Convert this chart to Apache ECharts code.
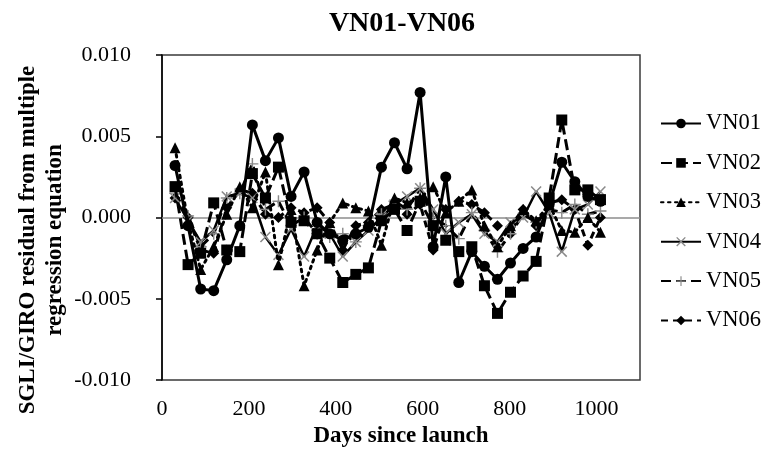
<!DOCTYPE html>
<html>
<head>
<meta charset="utf-8">
<script src="https://cdn.jsdelivr.net/npm/echarts@6/dist/echarts.min.js"></script>
<style>
  html, body { margin: 0; padding: 0; background: #fff; }
  #chart { width: 765px; height: 455px; }
</style>
</head>
<body>
<div id="chart"></div>
<script>
// Days since launch for each monthly residual
const days = [30, 60, 89, 119, 149, 179, 208, 238, 268, 297, 327, 357, 386, 416, 446, 475, 505,
  535, 564, 594, 624, 653, 683, 713, 742, 772, 802, 831, 861, 891, 920, 950, 980, 1009];

// SGLI/GIRO residuals from the multiple regression equation
const vn01 = [0.0032, -0.0005, -0.0044, -0.0045, -0.0026, -0.0005, 0.0057, 0.0035, 0.0049, 0.0013,
  0.0028, -0.0003, -0.0010, -0.0014, -0.0010, -0.0006, 0.0031, 0.0046, 0.0030, 0.0077,
  -0.0018, 0.0025, -0.0040, -0.0021, -0.0030, -0.0038, -0.0028, -0.0019, -0.0012, 0.0008,
  0.0034, 0.0022, 0.0013, 0.0010];
const vn02 = [0.0019, -0.0029, -0.0022, 0.0009, -0.0020, -0.0021, 0.0027, 0.0012, 0.0031, -0.0003,
  -0.0002, -0.0010, -0.0025, -0.0040, -0.0035, -0.0031, -0.0002, 0.0005, -0.0008, 0.0010,
  -0.0005, -0.0014, -0.0021, -0.0018, -0.0042, -0.0059, -0.0046, -0.0036, -0.0027, 0.0012,
  0.0060, 0.0017, 0.0017, 0.0011];
const vn03 = [0.0043, -0.0003, -0.0032, -0.0018, 0.0002, 0.0019, 0.0006, 0.0028, -0.0029, 0.0005,
  -0.0042, -0.0020, -0.0003, 0.0009, 0.0006, 0.0004, -0.0017, 0.0012, 0.0009, 0.0012,
  0.0019, 0.0003, 0.0010, 0.0017, -0.0005, -0.0018, -0.0005, 0.0005, -0.0002, 0.0008,
  -0.0008, -0.0009, 0.0000, -0.0009];
const vn04 = [0.0012, -0.0002, -0.0015, -0.0008, 0.0013, 0.0015, 0.0012, -0.0012, -0.0023, -0.0007,
  -0.0024, -0.0005, -0.0010, -0.0024, -0.0015, -0.0008, 0.0000, 0.0008, 0.0013, 0.0018,
  0.0005, -0.0010, -0.0003, 0.0002, -0.0010, -0.0015, -0.0003, 0.0000, 0.0016, 0.0003,
  -0.0021, 0.0005, 0.0008, 0.0016];
const vn05 = [0.0015, 0.0001, -0.0018, -0.0010, 0.0012, 0.0015, 0.0033, 0.0005, 0.0010, -0.0005,
  0.0000, -0.0010, -0.0012, -0.0010, -0.0015, -0.0005, 0.0002, 0.0010, 0.0005, 0.0018,
  0.0000, -0.0005, -0.0013, 0.0003, -0.0008, -0.0021, -0.0010, 0.0002, -0.0003, 0.0005,
  0.0003, 0.0008, 0.0002, 0.0004];
const vn06 = [0.0012, 0.0000, -0.0020, -0.0022, 0.0006, 0.0017, 0.0015, 0.0002, 0.0000, 0.0006,
  0.0003, 0.0006, -0.0003, -0.0020, -0.0005, -0.0003, 0.0005, 0.0008, 0.0002, 0.0008,
  -0.0020, 0.0005, 0.0010, 0.0008, 0.0003, -0.0005, -0.0010, 0.0005, -0.0005, 0.0009,
  0.0011, 0.0005, -0.0017, 0.0000];

const seriesNames = ['VN01', 'VN02', 'VN03', 'VN04', 'VN05', 'VN06'];
const seriesValues = [vn01, vn02, vn03, vn04, vn05, vn06];

// Marker shapes drawn as filled outlines
const crossPath = 'path://M0,1L1,0L5,4L9,0L10,1L6,5L10,9L9,10L5,6L1,10L0,9L4,5Z';
const plusPath = 'path://M4.4,0H5.6V4.4H10V5.6H5.6V10H4.4V5.6H0V4.4H4.4Z';

const serif = '"Liberation Serif", "Times New Roman", serif';

const styles = [
  { symbol: 'circle', symbolSize: 11, color: '#000', line: { width: 3, type: 'solid' } },
  { symbol: 'rect', symbolSize: 11, color: '#000', line: { width: 3, type: [11, 5] } },
  { symbol: 'triangle', symbolSize: 11, color: '#000', line: { width: 3, type: [2.5, 4.5], cap: 'round' } },
  { symbol: crossPath, symbolSize: 11, color: '#8a8a8a', line: { width: 2.5, type: 'solid' } },
  { symbol: plusPath, symbolSize: 12, color: '#8a8a8a', line: { width: 3, type: [10, 5] } },
  { symbol: 'diamond', symbolSize: 11, color: '#000', line: { width: 3, type: [7, 5] } }
];

const series = seriesNames.map((name, i) => ({
  name: name,
  type: 'line',
  data: days.map((d, j) => [d, seriesValues[i][j]]),
  symbol: styles[i].symbol,
  symbolSize: styles[i].symbolSize,
  showAllSymbol: true,
  animation: false,
  itemStyle: { color: styles[i].color, borderWidth: 0 },
  lineStyle: { color: '#000', width: styles[i].line.width, type: styles[i].line.type, cap: styles[i].line.cap || 'butt' },
  z: 10 - i
}));

// zero reference line
series.push({
  type: 'line',
  data: [],
  silent: true,
  markLine: {
    silent: true,
    symbol: 'none',
    label: { show: false },
    lineStyle: { color: '#8c8c8c', width: 1.5, type: 'solid' },
    data: [{ yAxis: 0 }]
  },
  z: 1
});

const chart = echarts.init(document.getElementById('chart'), null, { renderer: 'canvas' });
chart.setOption({
  animation: false,
  backgroundColor: '#fff',
  title: {
    text: 'VN01-VN06',
    left: 397,
    textAlign: 'center',
    top: 5,
    textStyle: { fontFamily: serif, fontSize: 28, fontWeight: 'bold', color: '#000' }
  },
  grid: {
    left: 162, right: 125, top: 55, bottom: 75,
    show: true, borderColor: '#3a3a3a', borderWidth: 1.5, backgroundColor: '#fff'
  },
  legend: {
    orient: 'vertical',
    left: 655,
    top: 107,
    padding: 5,
    itemWidth: 40,
    itemHeight: 12,
    itemGap: 16.4,
    data: seriesNames,
    textStyle: { fontFamily: serif, fontSize: 22.5, color: '#000', lineHeight: 23 }
  },
  xAxis: {
    type: 'value',
    min: 0,
    max: 1100,
    interval: 200,
    name: 'Days since launch',
    nameLocation: 'middle',
    nameGap: 45,
    nameTextStyle: { fontFamily: serif, fontSize: 23, fontWeight: 'bold', color: '#000' },
    axisLine: { show: false },
    axisTick: { show: false },
    splitLine: { show: false },
    axisLabel: {
      showMaxLabel: false,
      margin: 18,
      fontFamily: serif, fontSize: 22, color: '#000',
      formatter: v => String(v)
    }
  },
  yAxis: {
    type: 'value',
    min: -0.01,
    max: 0.01,
    interval: 0.005,
    axisLine: { show: true, lineStyle: { color: '#000', width: 1.5 } },
    axisTick: { show: true, inside: false, length: 6, lineStyle: { color: '#000', width: 1.5 } },
    splitLine: { show: false },
    axisLabel: {
      margin: 31,
      fontFamily: serif, fontSize: 22, color: '#000',
      formatter: v => v.toFixed(3)
    }
  },
  graphic: [{
    type: 'text',
    x: 42,
    y: 240,
    rotation: Math.PI / 2,
    style: {
      text: 'SGLI/GIRO residual from multiple\nregression equation',
      fontFamily: serif,
      fontSize: 23,
      fontWeight: 'bold',
      lineHeight: 27,
      fill: '#000',
      align: 'center',
      verticalAlign: 'middle'
    }
  }],
  series: series
});
</script>
</body>
</html>
